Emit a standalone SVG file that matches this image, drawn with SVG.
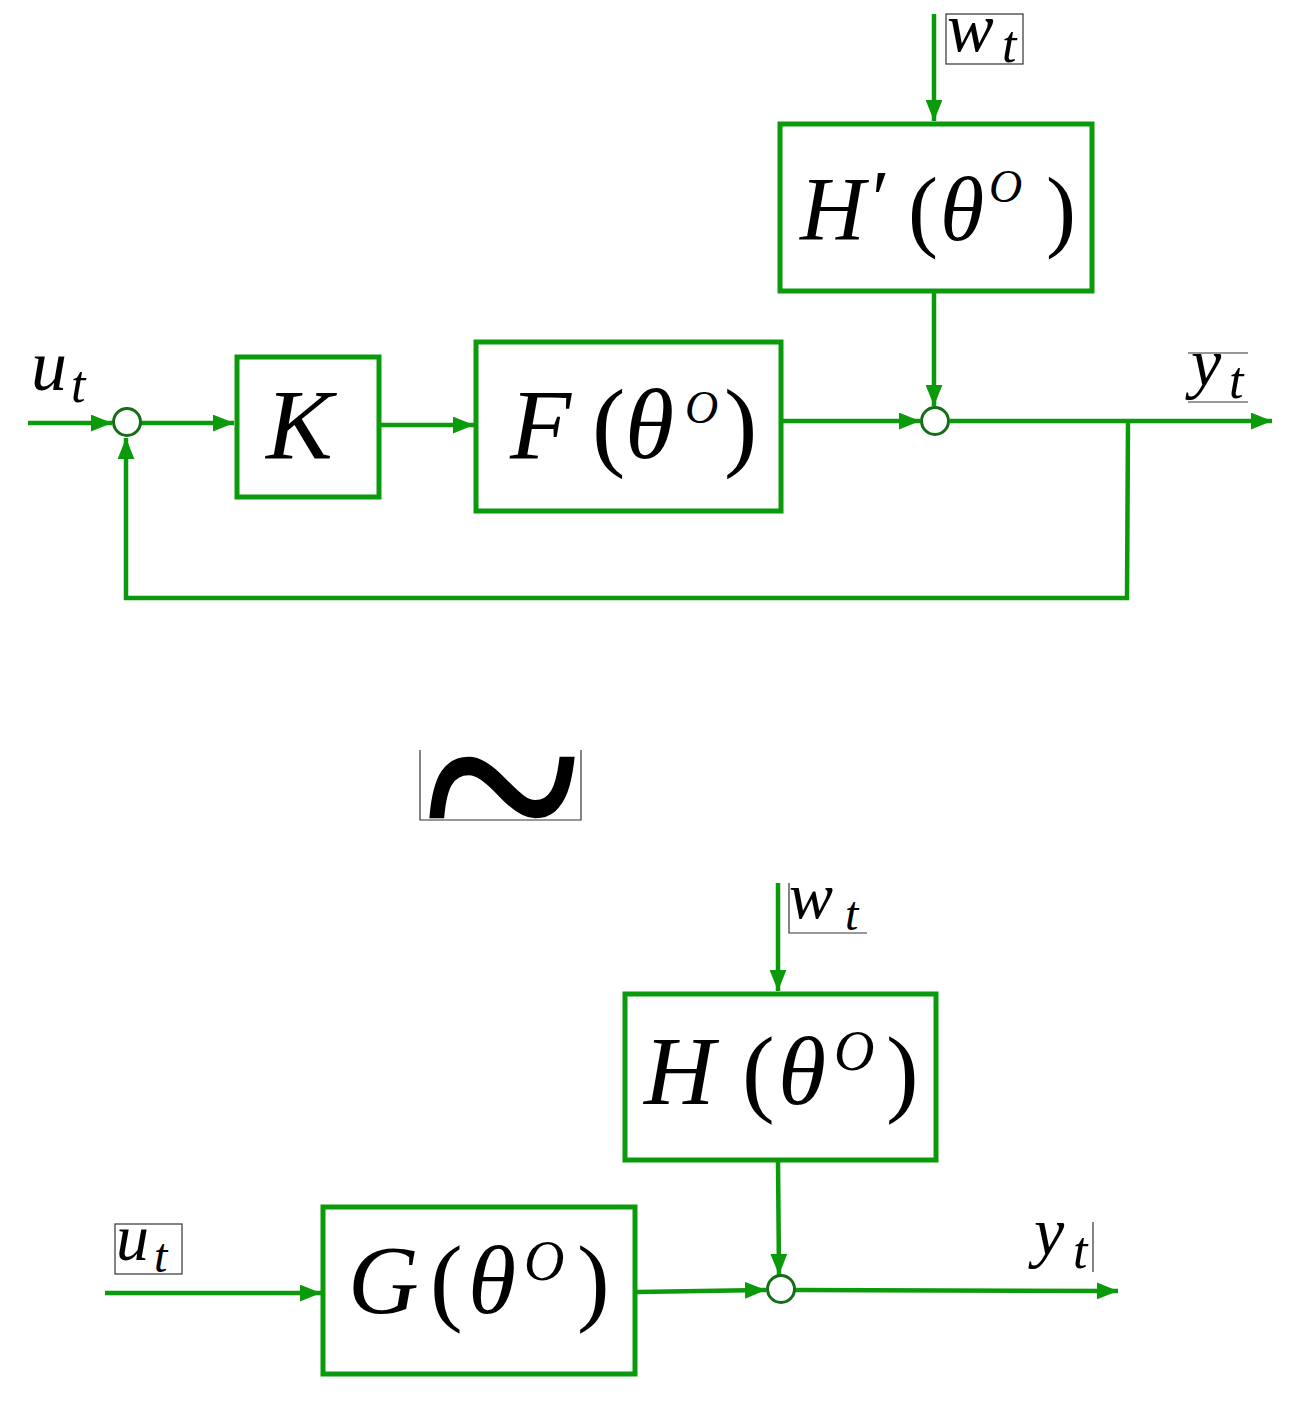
<svg xmlns="http://www.w3.org/2000/svg" width="1306" height="1402" viewBox="0 0 1306 1402">
<style>
.box{fill:none;stroke:#0b9a0b;stroke-width:5}
.ln{fill:none;stroke:#0b9a0b;stroke-width:4.5}
.sum{fill:#fff;stroke:#146e14;stroke-width:3}
.tx{font-family:"Liberation Serif","Times New Roman",serif;fill:#000}
.it{font-style:italic}
.lb{fill:none;stroke:#333;stroke-width:1.2}
</style>
<defs>
<marker id="ah" viewBox="0 0 20 16" refX="20" refY="8" markerWidth="21" markerHeight="17" markerUnits="userSpaceOnUse" orient="auto">
<path d="M0,0 L20,8 L0,16 z" fill="#0b9a0b"/>
</marker>
</defs>
<rect width="1306" height="1402" fill="#fff"/>

<g id="connectors">
<line class="ln" x1="28" y1="423" x2="112" y2="423" marker-end="url(#ah)"/>
<line class="ln" x1="141" y1="423" x2="234" y2="423" marker-end="url(#ah)"/>
<line class="ln" x1="380" y1="425" x2="474" y2="425" marker-end="url(#ah)"/>
<line class="ln" x1="782" y1="421" x2="920" y2="421" marker-end="url(#ah)"/>
<line class="ln" x1="934" y1="14" x2="934" y2="121" marker-end="url(#ah)"/>
<line class="ln" x1="934" y1="292" x2="934" y2="406" marker-end="url(#ah)"/>
<line class="ln" x1="950" y1="421" x2="1272" y2="421" marker-end="url(#ah)"/>
<polyline class="ln" points="1128,421 1127,598 126,598 126,438" marker-end="url(#ah)"/>
<line class="ln" x1="778" y1="883" x2="778" y2="991" marker-end="url(#ah)"/>
<line class="ln" x1="778" y1="1161" x2="779" y2="1275" marker-end="url(#ah)"/>
<line class="ln" x1="105" y1="1293" x2="321" y2="1293" marker-end="url(#ah)"/>
<line class="ln" x1="637" y1="1292" x2="766" y2="1290" marker-end="url(#ah)"/>
<line class="ln" x1="795" y1="1290" x2="1118" y2="1291" marker-end="url(#ah)"/>
</g>

<g id="sum1"><circle class="sum" cx="127" cy="422" r="13.5"/></g>
<g id="sum2"><circle class="sum" cx="935" cy="421" r="13.5"/></g>
<g id="sum3"><circle class="sum" cx="781" cy="1289" r="13.5"/></g>

<g id="K">
<rect class="box" x="237" y="357" width="142" height="140"/>
<text class="tx it" x="266" y="458" font-size="100">K</text>
</g>

<g id="F">
<rect class="box" x="476" y="342" width="305" height="169"/>
<text class="tx" y="458" font-size="100"><tspan class="it" x="510">F</tspan><tspan x="592">(</tspan><tspan class="it" x="625">θ</tspan><tspan class="it" x="685" y="423" font-size="46">O</tspan><tspan x="724" y="458">)</tspan></text>
</g>

<g id="Hprime">
<rect class="box" x="780" y="124" width="312" height="167"/>
<text class="tx" y="240" font-size="90"><tspan class="it" x="800">H</tspan><tspan x="872" y="226" font-size="80">′</tspan><tspan x="908" y="240" font-size="90">(</tspan><tspan class="it" x="940">θ</tspan><tspan class="it" x="989" y="202" font-size="46">O</tspan><tspan x="1046" y="240">)</tspan></text>
</g>

<g id="H">
<rect class="box" x="625" y="994" width="311" height="166"/>
<text class="tx" y="1104" font-size="98"><tspan class="it" x="644">H</tspan><tspan x="742">(</tspan><tspan class="it" x="778">θ</tspan><tspan class="it" x="834" y="1070" font-size="56">O</tspan><tspan x="886" y="1104">)</tspan></text>
</g>

<g id="G">
<rect class="box" x="323" y="1207" width="312" height="167"/>
<text class="tx" y="1313" font-size="98"><tspan class="it" x="348">G</tspan><tspan x="430">(</tspan><tspan class="it" x="468">θ</tspan><tspan class="it" x="524" y="1280" font-size="56">O</tspan><tspan x="577" y="1313">)</tspan></text>
</g>

<g id="label-wt-top">
<rect class="lb" x="946" y="14" width="77" height="50"/>
<text class="tx it" y="51" font-size="70"><tspan x="947">w</tspan><tspan x="1002" y="62" font-size="52">t</tspan></text>
</g>
<g id="label-ut-top">
<text class="tx it" y="390" font-size="72"><tspan x="31">u</tspan><tspan x="71" y="402" font-size="52">t</tspan></text>
</g>
<g id="label-yt-top">
<path class="lb" d="M1188,353 H1248 M1188,402 H1248"/>
<text class="tx it" y="386" font-size="68"><tspan x="1191">y</tspan><tspan x="1229" y="398" font-size="52">t</tspan></text>
</g>

<g id="tilde">
<path class="lb" d="M420,750 V820 H581 V750"/>
<text class="tx" transform="translate(421,908) scale(1,1.22)" font-size="300">~</text>
</g>

<g id="label-wt-bot">
<path class="lb" d="M789,883 V933 H867"/>
<text class="tx it" y="918" font-size="66"><tspan x="789">w</tspan><tspan x="845" y="930" font-size="48">t</tspan></text>
</g>
<g id="label-ut-bot">
<rect class="lb" x="115" y="1224" width="67" height="50"/>
<text class="tx it" y="1260" font-size="66"><tspan x="116">u</tspan><tspan x="154" y="1272" font-size="48">t</tspan></text>
</g>
<g id="label-yt-bot">
<path class="lb" d="M1093,1222 V1272"/>
<text class="tx it" y="1255" font-size="68"><tspan x="1034">y</tspan><tspan x="1073" y="1268" font-size="52">t</tspan></text>
</g>
</svg>
